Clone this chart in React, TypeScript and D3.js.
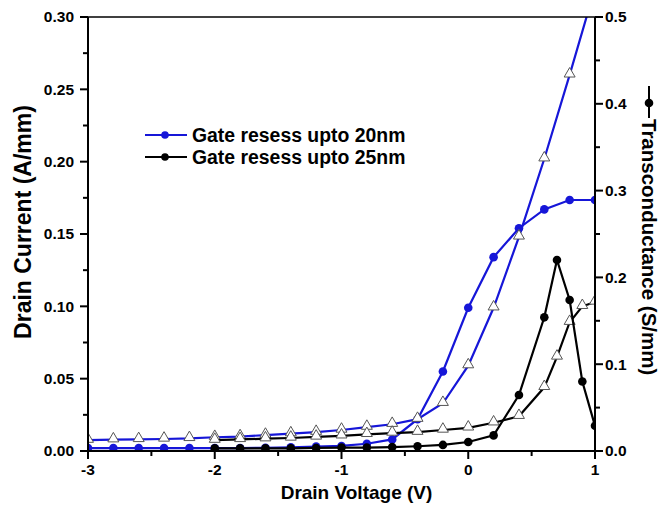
import React from "react";
import * as d3 from "d3";

// Drain voltage sweep (V)
const voltage = [-3, -2.8, -2.6, -2.4, -2.2, -2, -1.8, -1.6, -1.4, -1.2, -1, -0.8, -0.6, -0.4, -0.2, 0, 0.2, 0.4, 0.6, 0.8, 1];
const blueCurrent = [0.002, 0.002, 0.002, 0.002, 0.002, 0.002, 0.002, 0.0022, 0.0025, 0.003, 0.0035, 0.005, 0.008, 0.022, 0.055, 0.099, 0.134, 0.154, 0.167, 0.1735, 0.1735];
const blueTriangle = [0.0075, 0.0078, 0.008, 0.0083, 0.0087, 0.0095, 0.01, 0.011, 0.012, 0.013, 0.0145, 0.0165, 0.0185, 0.022, 0.033, 0.059, 0.099, 0.148, 0.202, 0.26, 0.32];

const blackVoltage = [-2, -1.8, -1.6, -1.4, -1.2, -1, -0.8, -0.6, -0.4, -0.2, 0, 0.2, 0.4, 0.6, 0.7, 0.8, 0.9, 1];
const blackTriangle = [0.0075, 0.008, 0.0085, 0.009, 0.0097, 0.0105, 0.0115, 0.0124, 0.013, 0.0145, 0.016, 0.0195, 0.024, 0.044, 0.065, 0.089, 0.1, 0.103];
const blackGm = [0.003, 0.003, 0.003, 0.003, 0.0035, 0.004, 0.004, 0.0045, 0.0055, 0.007, 0.0104, 0.018, 0.0645, 0.154, 0.22, 0.174, 0.08, 0.029];

const xTicks = [-3, -2, -1, 0, 1];
const xMinor = [-2.5, -1.5, -0.5, 0.5];
const leftTicks = [0, 0.05, 0.1, 0.15, 0.2, 0.25, 0.3];
const leftMinor = [0.025, 0.075, 0.125, 0.175, 0.225, 0.275];
const rightTicks = [0, 0.1, 0.2, 0.3, 0.4, 0.5];
const rightMinor = [0.05, 0.15, 0.25, 0.35, 0.45];

const legendItems = [
  { name: "Gate resess upto 20nm", color: "#1616d8" },
  { name: "Gate resess upto 25nm", color: "#000000" },
];

const W = 662;
const H = 506;
const margin = { top: 17, right: 67, bottom: 55, left: 88 };
const FONT = "'Liberation Sans', Arial, sans-serif";
const BLUE = "#1616d8";
const TICK_FS = 15.5;

export default function App() {
  const innerW = W - margin.left - margin.right;
  const innerH = H - margin.top - margin.bottom;

  const x = d3.scaleLinear().domain([-3, 1]).range([0, innerW]);
  const yL = d3.scaleLinear().domain([0, 0.3]).range([innerH, 0]);
  const yR = d3.scaleLinear().domain([0, 0.5]).range([innerH, 0]);

  const lineL = d3.line<[number, number]>().x(d => x(d[0])).y(d => yL(d[1]));
  const lineR = d3.line<[number, number]>().x(d => x(d[0])).y(d => yR(d[1]));
  const tri = d3.symbol().type(d3.symbolTriangle).size(52)();

  const blueI = voltage.map((v, i) => [v, blueCurrent[i]] as [number, number]);
  const blueT = voltage.map((v, i) => [v, blueTriangle[i]] as [number, number]);
  const blackT = blackVoltage.map((v, i) => [v, blackTriangle[i]] as [number, number]);
  const blackG = blackVoltage.map((v, i) => [v, blackGm[i]] as [number, number]);

  const fmtL = d3.format(".2f");
  const fmtR = d3.format(".1f");

  const triangles = (pts: [number, number][], color: string) => (
    <g>
      <path d={lineL(pts) || ""} fill="none" stroke={color} strokeWidth={2.2} />
      {pts.map((p, i) => (
        <path key={i} d={tri || ""} transform={`translate(${x(p[0])},${yL(p[1]) - 1})`} fill="#fff" stroke="#555" strokeWidth={1} />
      ))}
    </g>
  );

  return (
    <div style={{ position: "absolute", left: 0, top: 0, background: "#fff" }}>
      <svg width={W} height={H} style={{ display: "block", fontFamily: FONT }}>
        <defs>
          <clipPath id="plotClip">
            <rect x={0} y={0} width={innerW} height={innerH} />
          </clipPath>
        </defs>
        <g transform={`translate(${margin.left},${margin.top})`}>
          <g clipPath="url(#plotClip)">
            <path d={lineL(blueI) || ""} fill="none" stroke={BLUE} strokeWidth={2.2} />
            {blueI.map((p, i) => (
              <circle key={i} cx={x(p[0])} cy={yL(p[1])} r={4.3} fill={BLUE} />
            ))}
            {triangles(blueT, BLUE)}
            {triangles(blackT, "#000")}
            <path d={lineR(blackG) || ""} fill="none" stroke="#000" strokeWidth={2.2} />
            {blackG.map((p, i) => (
              <circle key={i} cx={x(p[0])} cy={yR(p[1])} r={4.3} fill="#000" />
            ))}
          </g>

          {/* frame */}
          <line x1={0} x2={innerW} y1={0} y2={0} stroke="#000" strokeWidth={1.5} />
          <line x1={0} x2={0} y1={0} y2={innerH + 1} stroke="#000" strokeWidth={2} />
          <line x1={innerW} x2={innerW} y1={0} y2={innerH + 1} stroke="#000" strokeWidth={2} />
          <line x1={0} x2={innerW} y1={innerH} y2={innerH} stroke="#000" strokeWidth={2} />

          {/* bottom axis */}
          {xTicks.map(t => (
            <g key={t} transform={`translate(${x(t)},${innerH})`}>
              <line y1={0} y2={8} stroke="#000" strokeWidth={2} />
              <text y={24} textAnchor="middle" fontSize={TICK_FS} fontWeight="bold">{t}</text>
            </g>
          ))}
          {xMinor.map(t => (
            <line key={t} x1={x(t)} x2={x(t)} y1={innerH} y2={innerH + 5} stroke="#000" strokeWidth={2} />
          ))}
          <text x={innerW / 2 + 15} y={innerH + 48} textAnchor="middle" fontSize={19} fontWeight="bold">Drain Voltage (V)</text>

          {/* left axis */}
          {leftTicks.map(t => (
            <g key={t} transform={`translate(0,${yL(t)})`}>
              <line x1={-8} x2={0} stroke="#000" strokeWidth={2} />
              <text x={-14} dy="0.35em" textAnchor="end" fontSize={TICK_FS} fontWeight="bold">{fmtL(t)}</text>
            </g>
          ))}
          {leftMinor.map(t => (
            <line key={t} x1={-5} x2={0} y1={yL(t)} y2={yL(t)} stroke="#000" strokeWidth={2} />
          ))}
          <text transform={`translate(${-57},${innerH / 2 - 12}) rotate(-90)`} textAnchor="middle" fontSize={23} fontWeight="bold">Drain Current (A/mm)</text>

          {/* right axis */}
          {rightTicks.map(t => (
            <g key={t} transform={`translate(${innerW},${yR(t)})`}>
              <line x1={0} x2={8} stroke="#000" strokeWidth={2} />
              <text x={10} dy="0.35em" textAnchor="start" fontSize={TICK_FS} fontWeight="bold">{fmtR(t)}</text>
            </g>
          ))}
          {rightMinor.map(t => (
            <line key={t} x1={innerW} x2={innerW + 5} y1={yR(t)} y2={yR(t)} stroke="#000" strokeWidth={2} />
          ))}
          <g transform={`translate(${innerW + 54},0)`}>
            <line x1={0} x2={0} y1={69} y2={101} stroke="#000" strokeWidth={2} />
            <circle cx={0} cy={86} r={4.3} fill="#000" />
            <text transform={`translate(-7,102) rotate(90)`} textAnchor="start" fontSize={20.5} fontWeight="bold">Transconductance (S/mm)</text>
          </g>

          {/* legend */}
          {legendItems.map((d, i) => (
            <g key={d.name} transform={`translate(57,${118 + i * 22})`}>
              <line x1={0} x2={42} y1={0} y2={0} stroke={d.color} strokeWidth={2.2} />
              <circle cx={20} cy={0} r={3.8} fill={d.color} />
              <text x={47} dy="0.36em" fontSize={19.4} fontWeight="bold">{d.name}</text>
            </g>
          ))}
        </g>
      </svg>
    </div>
  );
}
